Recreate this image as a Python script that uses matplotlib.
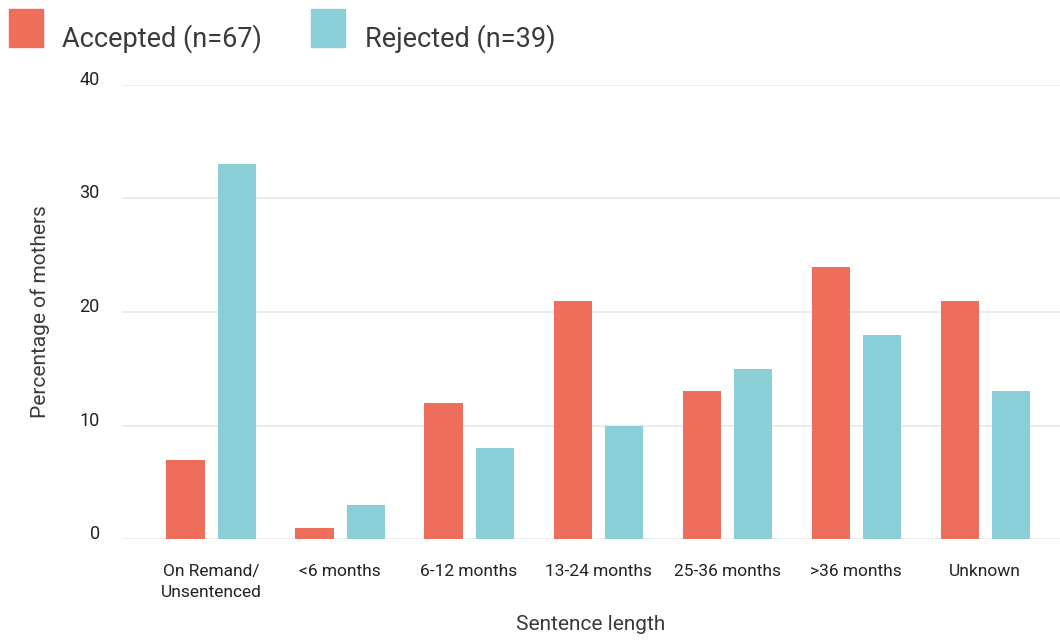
import matplotlib
matplotlib.use("Agg")
import matplotlib.pyplot as plt
import matplotlib.transforms as mtransforms
from matplotlib.patches import Rectangle
import numpy as np

categories = ["On Remand/\nUnsentenced", "<6 months", "6-12 months", "13-24 months",
              "25-36 months", ">36 months", "Unknown"]
accepted = [7, 1, 12, 21, 13, 24, 21]
rejected = [33, 3, 8, 10, 15, 18, 13]
series_names = ["Accepted (n=67)", "Rejected (n=39)"]
colors = ["#EC6E5B", "#8ACFD8"]
y_ticks = [0, 10, 20, 30, 40]

plt.rcParams["font.family"] = ["Roboto", "DejaVu Sans"]

fig = plt.figure(figsize=(10.6, 6.4), dpi=100)
ax = fig.add_axes([122 / 1060, 1 - 539 / 640, 1 - 122 / 1060, (539 - 85) / 640])

x = np.arange(len(categories))
w = 0.295
off = 0.198
ax.bar(x - off, accepted, w, color=colors[0], zorder=3)
ax.bar(x + off, rejected, w, color=colors[1], zorder=3)

ax.set_xlim(-0.69, 6.58)
ax.set_ylim(0, 40)
ax.set_yticks(y_ticks)
ax.yaxis.grid(True, color="#ebebeb", linewidth=1.3, zorder=0)
ax.set_axisbelow(True)
for s in ax.spines.values():
    s.set_visible(False)
ax.tick_params(length=0)
ax.tick_params(axis="y", pad=16)
ax.tick_params(axis="x", pad=18)

ax.set_xticks(x)
ax.set_xticklabels(categories, fontsize=12.5, color="#222222", linespacing=1.5)
ax.set_yticklabels([str(t) for t in y_ticks], fontsize=13, color="#222222")
shift = mtransforms.ScaledTranslation(0, 7 / 100, fig.dpi_scale_trans)
for lab in ax.get_yticklabels():
    lab.set_transform(lab.get_transform() + shift)

ax.set_xlabel("Sentence length", fontsize=15, color="#3a3a3a", labelpad=11)
ax.set_ylabel("Percentage of mothers", fontsize=15, color="#3a3a3a")
ax.yaxis.set_label_coords(-72 / 938, 0.5)

# legend drawn as swatches + text along the top
legend_x = [(9, 62), (311, 365)]
for (sx, tx), name, c in zip(legend_x, series_names, colors):
    fig.patches.append(Rectangle((sx / 1060, 1 - 47 / 640), 34 / 1060, 38 / 640,
                                 transform=fig.transFigure, color=c))
    fig.text(tx / 1060, 1 - 47 / 640, name, fontsize=19.5, color="#3a3a3a",
             va="baseline", ha="left")

fig.savefig("out.png", dpi=100)
